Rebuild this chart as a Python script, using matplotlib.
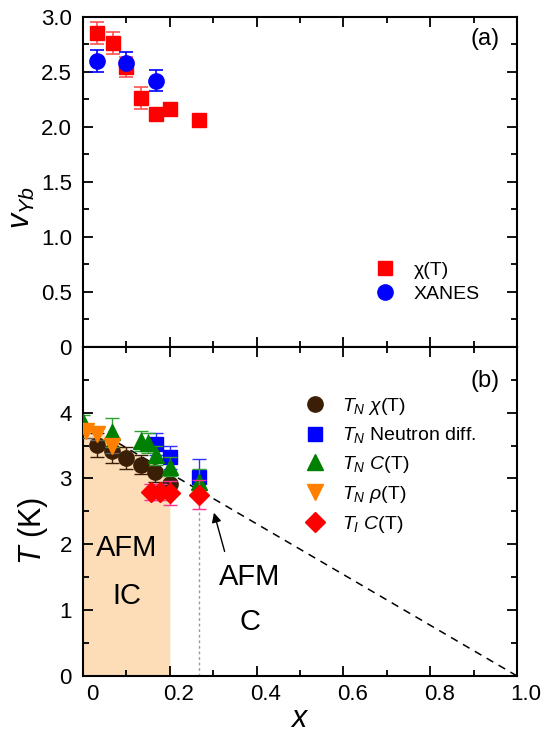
import numpy as np
import matplotlib
matplotlib.use("Agg")
import matplotlib.pyplot as plt
from matplotlib.transforms import ScaledTranslation

plt.rcParams['font.family'] = ['Liberation Sans', 'DejaVu Sans']
plt.rcParams['mathtext.fontset'] = 'custom'
plt.rcParams['mathtext.rm'] = 'Liberation Sans'
plt.rcParams['mathtext.it'] = 'Liberation Sans:italic'
plt.rcParams['mathtext.bf'] = 'Liberation Sans:bold'

# (a) valence of Yb
chi_x = [0.033, 0.068, 0.10, 0.134, 0.168, 0.20, 0.268]
chi_v = [2.85, 2.76, 2.54, 2.26, 2.12, 2.16, 2.06]
chi_err = [0.10, 0.10, 0.09, 0.10, 0.0, 0.0, 0.0]

xanes_x = [0.033, 0.10, 0.168]
xanes_v = [2.60, 2.58, 2.42]
xanes_err = [0.10, 0.10, 0.095]

# (b) phase diagram
tn_chi_x = [0.032, 0.067, 0.10, 0.134, 0.167, 0.20]
tn_chi_T = [3.51, 3.41, 3.31, 3.21, 3.10, 2.92]
tn_chi_err = [0.18, 0.17, 0.16, 0.15, 0.15, 0.15]

tn_nd_x = [0.168, 0.20, 0.267]
tn_nd_T = [3.52, 3.32, 3.02]
tn_nd_err = [0.17, 0.17, 0.27]

tn_c_x = [0.0, 0.067, 0.134, 0.15, 0.168, 0.20, 0.267]
tn_c_T = [3.86, 3.70, 3.57, 3.54, 3.35, 3.18, 2.94]
tn_c_err = [0.10, 0.22, 0.15, 0.15, 0.15, 0.15, 0.20]

tn_rho_x = [0.006, 0.033, 0.067]
tn_rho_T = [3.72, 3.68, 3.50]
tn_rho_err = [0.10, 0.10, 0.12]

ti_c_x = [0.157, 0.178, 0.20, 0.267]
ti_c_T = [2.79, 2.79, 2.78, 2.75]
ti_c_err = [0.12, 0.12, 0.18, 0.22]

guide_x = [0.0, 1.0]
guide_T = [3.85, 0.0]

shade_x = [0.0, 0.2]
x_boundary = 0.267

fig = plt.figure(figsize=(5.46, 7.5), dpi=100)
ax1 = fig.add_axes([0.152, 0.5377, 0.795, 0.44])
ax2 = fig.add_axes([0.152, 0.0987, 0.795, 0.439])

for ax in (ax1, ax2):
    ax.tick_params(which='both', direction='in', top=True, right=True, width=1.3,
                   labelsize=16)
    ax.tick_params(which='major', length=7)
    ax.tick_params(which='minor', length=4)
    for s in ax.spines.values():
        s.set_linewidth(1.5)
    ax.set_xlim(0, 1.0)
    ax.set_xticks(np.arange(0, 1.01, 0.2))
    ax.set_xticks(np.arange(0.1, 1.0, 0.2), minor=True)

# ---- panel (a)
ax1.errorbar(chi_x, chi_v, yerr=chi_err, fmt='s', color='#ff0000', ms=10.5, mec='#ff0000',
             ecolor='#ff5050', elinewidth=1.2, capsize=5, capthick=1.2, label='\u03c7(T)')
ax1.errorbar(xanes_x, xanes_v, yerr=xanes_err, fmt='o', color='#0000ff', ms=11, mec='#0000ff',
             ecolor='#0000ff', elinewidth=1.2, capsize=5, capthick=1.2, label='XANES')
ax1.set_ylim(0, 3.0)
ax1.set_yticks(np.arange(0, 3.01, 0.5))
ax1.set_yticks(np.arange(0.25, 3.0, 0.5), minor=True)
ax1.set_yticklabels(['0', '0.5', '1.0', '1.5', '2.0', '2.5', '3.0'])
ax1.tick_params(labelbottom=False, pad=8)
ax1.set_ylabel(r'$v_{Yb}$', fontsize=22)
ax1.yaxis.set_label_coords(-0.106, 0.42)
ax1.text(0.96, 0.965, '(a)', transform=ax1.transAxes, fontsize=17, ha='right', va='top')
h1, l1 = ax1.get_legend_handles_labels()
ax1.legend([h[0] for h in h1], l1, loc='lower left', bbox_to_anchor=(0.65, 0.11),
           frameon=False, fontsize=14, handletextpad=0.9, labelspacing=0.3,
           borderaxespad=0, handlelength=1.2)

# ---- panel (b)
T_shade = np.interp(shade_x, guide_x, guide_T)
ax2.fill_between(shade_x, 0, T_shade, color='#fddcb8', lw=0, zorder=0)
ax2.plot(guide_x, guide_T, ls=(0, (5, 4)), color='black', lw=1.1, zorder=1)
ax2.plot([x_boundary, x_boundary], [0, 2.55], ls=(0, (2, 2)), color='#9a9a9a', lw=1.0, zorder=1)

ax2.errorbar(tn_chi_x, tn_chi_T, yerr=tn_chi_err, fmt='o', color='#3a1e05', ms=11,
             ecolor='#3a1e05', elinewidth=1.0, capsize=5, capthick=1.0,
             label=r'$T_N$ $\chi$(T)', zorder=3)
ax2.errorbar(tn_nd_x, tn_nd_T, yerr=tn_nd_err, fmt='s', color='#0000ff', ms=10,
             ecolor='#3030ff', elinewidth=1.0, capsize=5, capthick=1.0,
             label=r'$T_N$ Neutron diff.', zorder=3)
ax2.errorbar(tn_c_x, tn_c_T, yerr=tn_c_err, fmt='^', color='#008000', ms=12,
             ecolor='#30a030', elinewidth=1.0, capsize=5, capthick=1.0,
             label=r'$T_N$ $C$(T)', zorder=4)
ax2.errorbar(tn_rho_x, tn_rho_T, yerr=tn_rho_err, fmt='v', color='#ff8000', ms=12,
             ecolor='#606060', elinewidth=1.0, capsize=5, capthick=1.0,
             label=r'$T_N$ $\rho$(T)', zorder=4)
ax2.errorbar(ti_c_x, ti_c_T, yerr=ti_c_err, fmt='D', color='#ff0000', ms=10,
             ecolor='#ff3090', elinewidth=1.0, capsize=5, capthick=1.0,
             label=r'$T_I$ $C$(T)', zorder=5)

ax2.set_ylim(0, 5)
ax2.set_yticks(np.arange(0, 5.01, 1))
ax2.set_yticks(np.arange(0.5, 5, 1), minor=True)
ax2.set_yticklabels(['0', '1', '2', '3', '4', ''])
ax2.set_xticklabels(['0', '0.2', '0.4', '0.6', '0.8', '1.0'])
ax2.tick_params(axis='y', pad=8)
ax2.tick_params(axis='x', pad=6)
shift = ScaledTranslation(9 / 100, 0, fig.dpi_scale_trans)
for lab in ax2.get_xticklabels():
    lab.set_transform(lab.get_transform() + shift)

ax2.set_ylabel(r'$T$ (K)', fontsize=22)
ax2.yaxis.set_label_coords(-0.075, 0.44)
ax2.set_xlabel(r'$x$', fontsize=22)
ax2.xaxis.set_label_coords(0.5, -0.085)
ax2.text(0.96, 0.93, '(b)', transform=ax2.transAxes, fontsize=17, ha='right', va='top')

ax2.text(0.10, 1.95, 'AFM', fontsize=21, ha='center', va='center')
ax2.text(0.10, 1.22, 'IC', fontsize=21, ha='center', va='center')
ax2.text(0.385, 1.50, 'AFM', fontsize=21, ha='center', va='center')
ax2.text(0.385, 0.82, 'C', fontsize=21, ha='center', va='center')
ax2.annotate('', xy=(0.30, 2.52), xytext=(0.328, 1.85),
             arrowprops=dict(arrowstyle='-|>', color='black', lw=1.0, mutation_scale=14))

handles, labels = ax2.get_legend_handles_labels()
handles = [h[0] for h in handles]
ax2.legend(handles, labels, loc='upper left', bbox_to_anchor=(0.49, 0.875), frameon=False,
           fontsize=14, handletextpad=0.8, labelspacing=0.45, borderaxespad=0,
           handlelength=1.2)

fig.savefig('out.png', dpi=100)
